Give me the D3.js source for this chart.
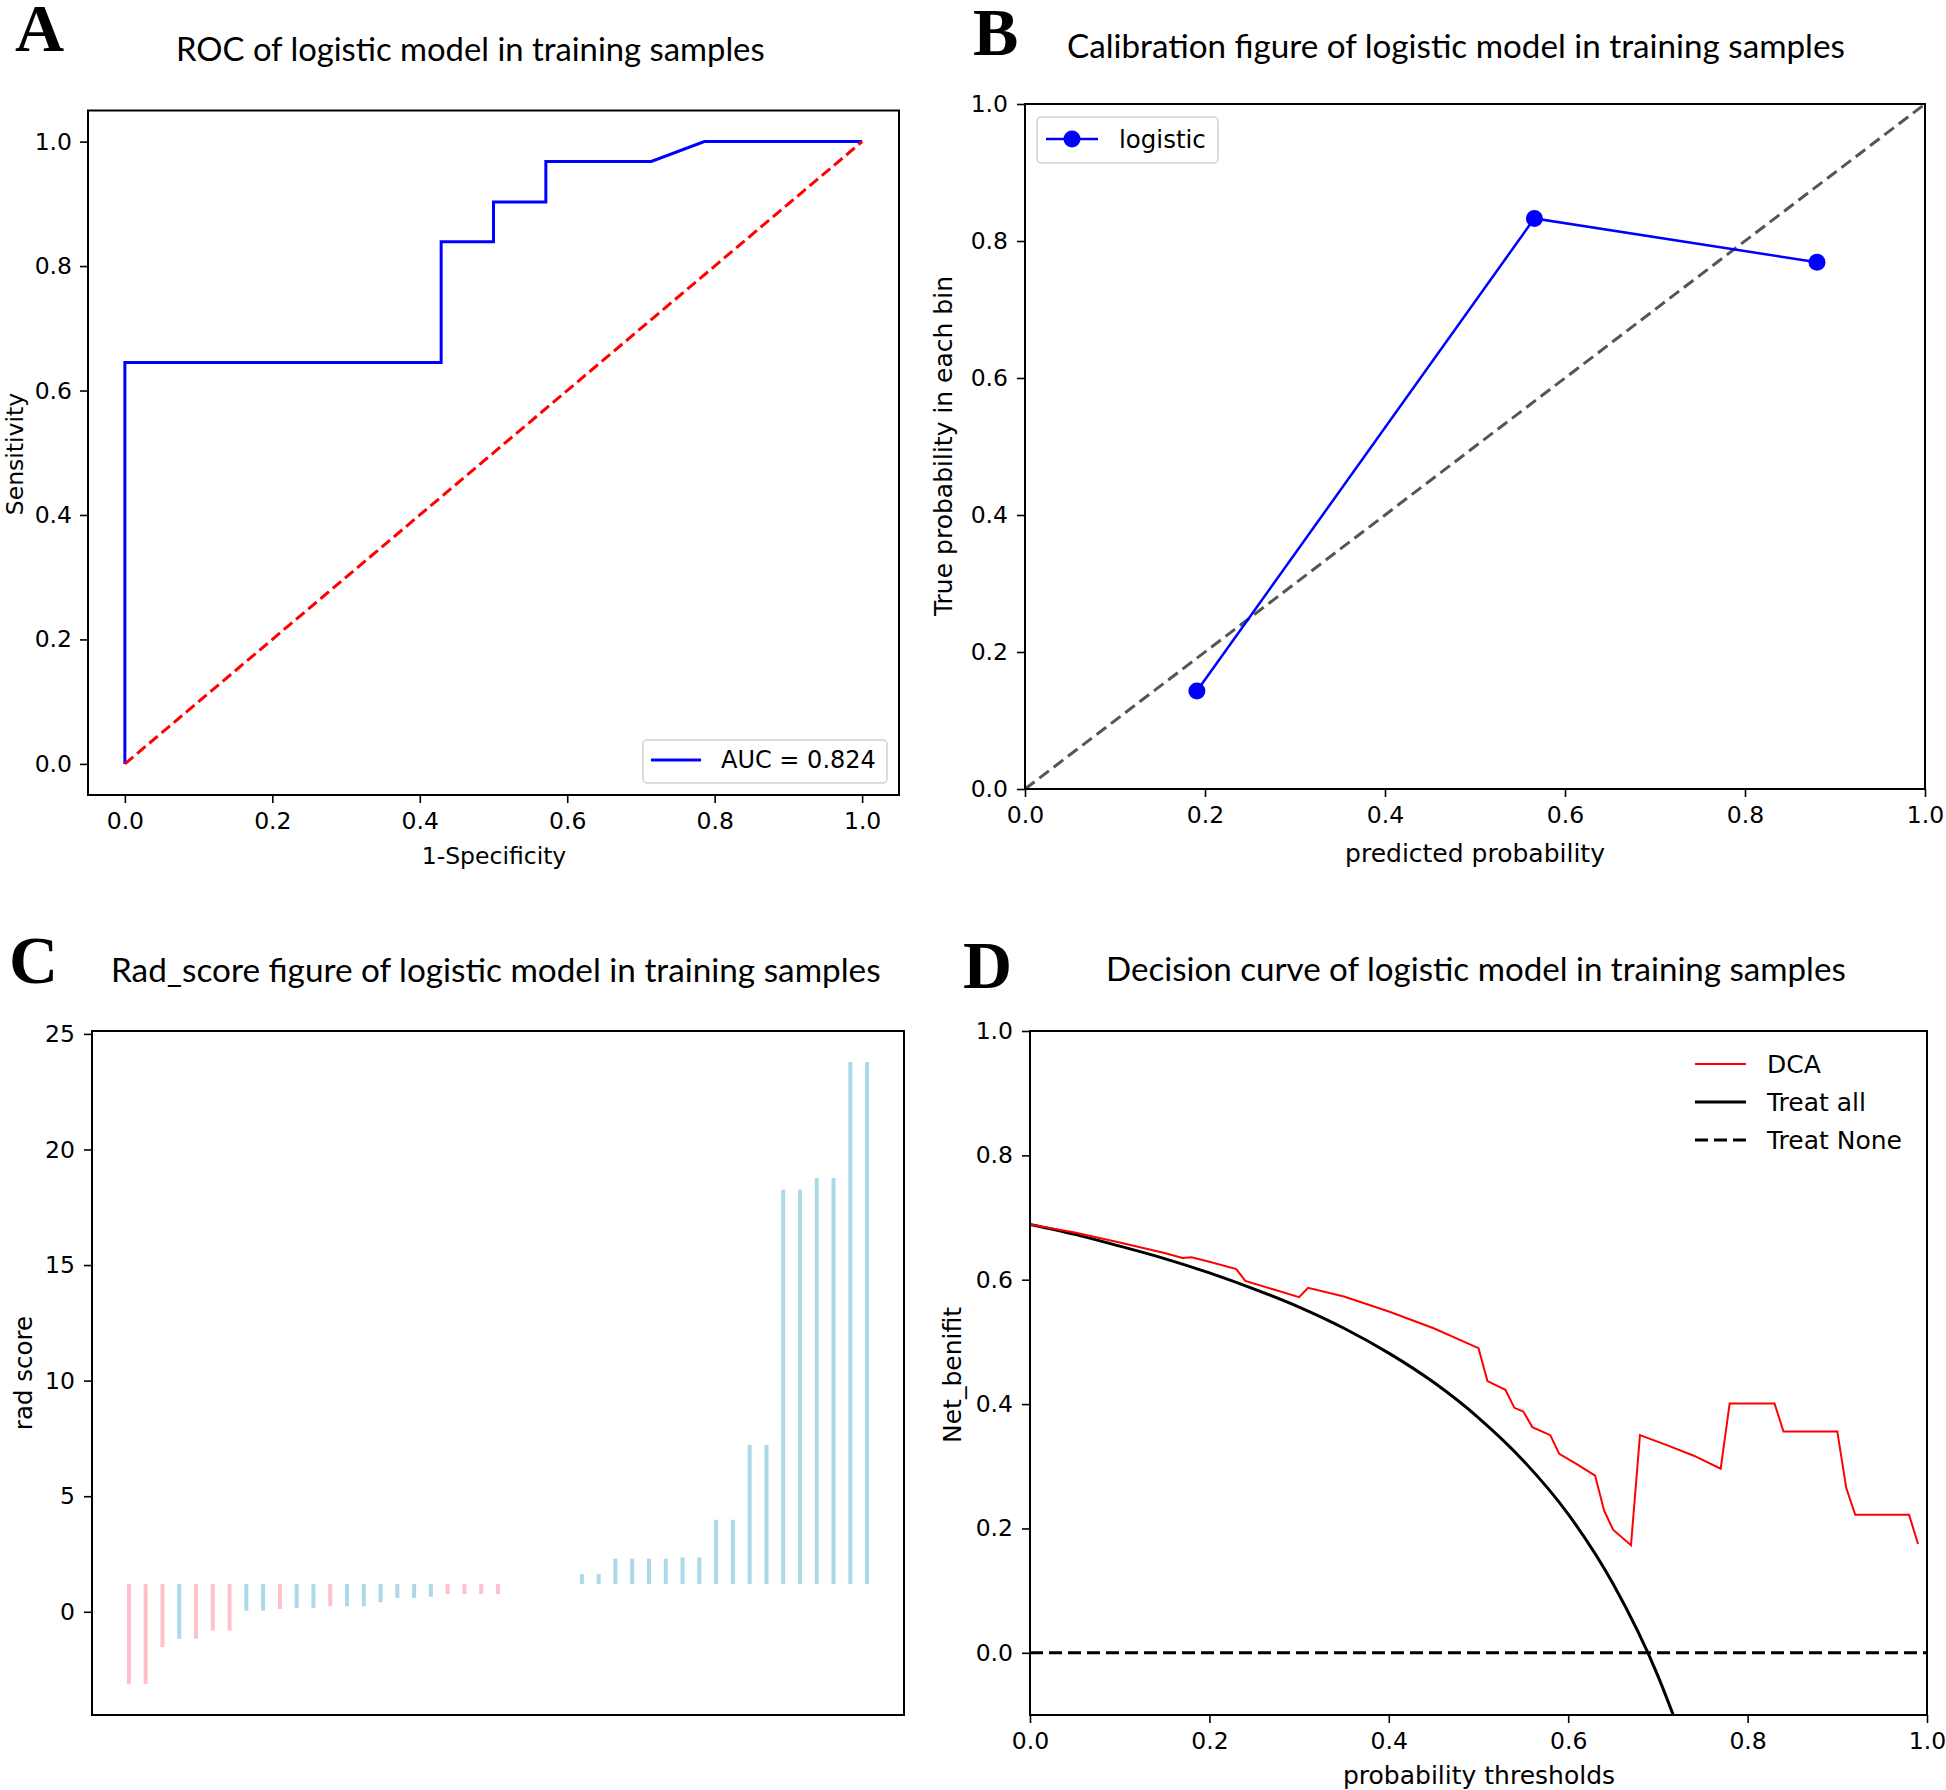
<!DOCTYPE html>
<html>
<head>
<meta charset="utf-8">
<script src="https://cdn.jsdelivr.net/npm/d3@7"></script>
<style>
  body { margin: 0; background: #fff; }
  svg text { font-family: "DejaVu Sans", sans-serif; fill: #000; }
</style>
</head>
<body>
<svg id="fig"></svg>
<script>
// ---------------- data ----------------
// A: ROC curve
const rocFpr = [0, 0, 0.429, 0.429, 0.5, 0.5, 0.571, 0.571, 0.714, 0.786, 1.0];
const rocTpr = [0, 0.645, 0.645, 0.839, 0.839, 0.903, 0.903, 0.968, 0.968, 1.0, 1.0];
const aucLabel = "AUC = 0.824";

// B: calibration bins
const calPred = [0.191, 0.566, 0.880];
const calTrue = [0.143, 0.833, 0.769];

// C: rad score per sample (sorted), class colour, baseline of the lines
const radScore = [-3.12, -3.12, -1.53, -1.17, -1.17, -0.81, -0.81, 0.05, 0.05, 0.12,
  0.17, 0.17, 0.24, 0.24, 0.24, 0.41, 0.6, 0.6, 0.65, 0.77, 0.77, 0.77, 0.77,
  1.2, 1.2, 1.2, 1.2,
  1.63, 1.63, 2.3, 2.3, 2.3, 2.3, 2.35, 2.35, 3.98, 3.98, 7.21, 7.21,
  18.26, 18.26, 18.77, 18.77, 23.78, 23.78];
const radClass = ["n","n","n","p","n","n","n","p","p","n","p","p","n","p","p","p","p","p","p",
  "n","n","n","n", "n","n","p","p",
  "p","p","p","p","p","p","p","p","p","p","p","p","p","p","p","p","p","p"];
const radBase = 1.2;

// D: decision curve
const dcaThresh = [0, 0.05, 0.10, 0.15, 0.17, 0.18, 0.20, 0.23, 0.24, 0.27, 0.30, 0.31, 0.35, 0.40,
  0.45, 0.50, 0.51, 0.53, 0.54, 0.55, 0.56, 0.58, 0.59, 0.61, 0.63, 0.64, 0.65, 0.67, 0.68,
  0.71, 0.74, 0.77, 0.78, 0.83, 0.84, 0.90, 0.91, 0.92, 0.98, 0.99];
const dcaNet = [0.689, 0.676, 0.660, 0.643, 0.635, 0.636, 0.629, 0.617, 0.598, 0.585, 0.572, 0.587, 0.573, 0.549,
  0.522, 0.490, 0.437, 0.423, 0.394, 0.388, 0.363, 0.350, 0.320, 0.303, 0.285, 0.229, 0.198, 0.173, 0.350,
  0.334, 0.317, 0.296, 0.401, 0.401, 0.356, 0.356, 0.265, 0.222, 0.222, 0.175];
const allThresh = [0, 0.05, 0.1, 0.15, 0.2, 0.25, 0.3, 0.35, 0.4, 0.45, 0.5, 0.55, 0.6, 0.65, 0.7, 0.72];
const allNet = [0.689, 0.673, 0.654, 0.634, 0.611, 0.585, 0.556, 0.522, 0.482, 0.435, 0.378, 0.309, 0.223, 0.111, -0.037, -0.111];
const noneThresh = [0, 1];
const noneNet = [0, 0];

const unitTicks = [0, 0.2, 0.4, 0.6, 0.8, 1.0];
const radTicks = [0, 5, 10, 15, 20, 25];

// ---------------- figure ----------------
const W = 1946, H = 1790;
const svg = d3.select("#fig").attr("width", W).attr("height", H);
svg.append("rect").attr("width", W).attr("height", H).attr("fill", "#fff");

const fmt1 = d3.format(".1f");

function styleAxis(g, size) {
  g.select(".domain").remove();
  g.selectAll(".tick line").attr("stroke", "#000").attr("stroke-width", 1.6);
  g.selectAll(".tick text").attr("fill", "#000").style("font-size", size + "px");
}

function frame(x, y) {
  const [x0, x1] = x.range(), [y0, y1] = y.range();
  svg.append("rect")
    .attr("x", x0).attr("y", y1)
    .attr("width", x1 - x0).attr("height", y0 - y1)
    .attr("fill", "none").attr("stroke", "#000").attr("stroke-width", 2);
}

function clip(id, x, y) {
  const [x0, x1] = x.range(), [y0, y1] = y.range();
  svg.append("clipPath").attr("id", id).append("rect")
    .attr("x", x0).attr("y", y1).attr("width", x1 - x0).attr("height", y0 - y1);
}

// titles in a Calibri-like face, sized to span the same width as the original
function title(x, y, str, width) {
  const t = svg.append("text").attr("x", x).attr("y", y).text(str)
    .style("font-family", "Lato, 'Open Sans', sans-serif").style("font-size", "100px");
  const w = t.node().getComputedTextLength();
  t.style("font-size", (100 * width / w) + "px");
}

function letter(x, y, str) {
  svg.append("text").attr("x", x).attr("y", y).text(str)
    .style("font-family", "'Liberation Serif', serif").style("font-weight", "bold")
    .style("font-size", "68px");
}

function label(x, y, str, size, rotate) {
  svg.append("text")
    .attr("transform", `translate(${x},${y})` + (rotate ? " rotate(-90)" : ""))
    .attr("text-anchor", "middle").attr("dy", "0.35em")
    .style("font-size", size + "px").text(str);
}

// ================= A: ROC =================
{
  const x = d3.scaleLinear().domain([-0.05, 1.05]).range([88, 899]);
  const y = d3.scaleLinear().domain([-0.05, 1.05]).range([795, 110.5]);

  svg.append("g").attr("transform", `translate(0,${y.range()[0]})`)
    .call(d3.axisBottom(x).tickValues(unitTicks).tickFormat(fmt1).tickSize(8).tickPadding(9))
    .call(g => styleAxis(g, 23.5));
  svg.append("g").attr("transform", `translate(${x.range()[0]},0)`)
    .call(d3.axisLeft(y).tickValues(unitTicks).tickFormat(fmt1).tickSize(8).tickPadding(8))
    .call(g => styleAxis(g, 23.5));

  const roc = d3.line().x(i => x(rocFpr[i])).y(i => y(rocTpr[i]));
  svg.append("path").attr("d", roc(d3.range(rocFpr.length)))
    .attr("fill", "none").attr("stroke", "#0000ff").attr("stroke-width", 3);
  svg.append("path").attr("d", d3.line()([[x(0), y(0)], [x(1), y(1)]]))
    .attr("fill", "none").attr("stroke", "#ff0000").attr("stroke-width", 3)
    .attr("stroke-dasharray", "11,5");

  frame(x, y);

  // legend
  svg.append("rect").attr("x", 643).attr("y", 740).attr("width", 244).attr("height", 43)
    .attr("rx", 4).attr("fill", "#fff").attr("fill-opacity", 0.8)
    .attr("stroke", "#d0d0d0").attr("stroke-width", 1.5);
  svg.append("line").attr("x1", 651).attr("x2", 701).attr("y1", 760).attr("y2", 760)
    .attr("stroke", "#0000ff").attr("stroke-width", 3);
  svg.append("text").attr("x", 721).attr("y", 760).attr("dy", "0.35em")
    .style("font-size", "24px").text(aucLabel);

  title(176, 61, "ROC of logistic model in training samples", 589);
  letter(15, 51, "A");
  label(494, 856, "1-Specificity", 23.5, false);
  label(15, 454, "Sensitivity", 23.5, true);
}

// ================= B: calibration =================
{
  const x = d3.scaleLinear().domain([0, 1]).range([1025, 1925]);
  const y = d3.scaleLinear().domain([0, 1]).range([789, 104]);

  svg.append("g").attr("transform", `translate(0,${y.range()[0]})`)
    .call(d3.axisBottom(x).tickValues(unitTicks).tickFormat(fmt1).tickSize(8).tickPadding(9))
    .call(g => styleAxis(g, 23.5));
  svg.append("g").attr("transform", `translate(${x.range()[0]},0)`)
    .call(d3.axisLeft(y).tickValues(unitTicks).tickFormat(fmt1).tickSize(8).tickPadding(9))
    .call(g => styleAxis(g, 23.5));

  svg.append("path").attr("d", d3.line()([[x(0), y(0)], [x(1), y(1)]]))
    .attr("fill", "none").attr("stroke", "#555").attr("stroke-width", 3)
    .attr("stroke-dasharray", "12,6");

  const cal = d3.line().x(i => x(calPred[i])).y(i => y(calTrue[i]));
  svg.append("path").attr("d", cal(d3.range(calPred.length)))
    .attr("fill", "none").attr("stroke", "#0000ff").attr("stroke-width", 2.5);
  svg.append("g").selectAll("circle").data(d3.range(calPred.length)).join("circle")
    .attr("cx", i => x(calPred[i])).attr("cy", i => y(calTrue[i])).attr("r", 8.5)
    .attr("fill", "#0000ff");

  frame(x, y);

  // legend
  svg.append("rect").attr("x", 1037).attr("y", 117).attr("width", 181).attr("height", 46)
    .attr("rx", 4).attr("fill", "#fff").attr("fill-opacity", 0.8)
    .attr("stroke", "#d0d0d0").attr("stroke-width", 1.5);
  svg.append("line").attr("x1", 1046).attr("x2", 1098).attr("y1", 139).attr("y2", 139)
    .attr("stroke", "#0000ff").attr("stroke-width", 2.5);
  svg.append("circle").attr("cx", 1072).attr("cy", 139).attr("r", 8.5).attr("fill", "#0000ff");
  svg.append("text").attr("x", 1119).attr("y", 139).attr("dy", "0.35em")
    .style("font-size", "24.5px").text("logistic");

  title(1067, 58, "Calibration figure of logistic model in training samples", 778);
  letter(973, 55, "B");
  label(1475, 853, "predicted probability", 25, false);
  label(943, 446, "True probability in each bin", 25, true);
}

// ================= C: rad score =================
{
  const n = radScore.length;
  const lo = Math.min(d3.min(radScore), radBase), hi = Math.max(d3.max(radScore), radBase);
  const pad = (hi - lo) * 0.05;
  const x = d3.scaleLinear().domain([-0.05 * (n - 1), 1.05 * (n - 1)]).range([92, 904]);
  const y = d3.scaleLinear().domain([lo - pad, hi + pad]).range([1715, 1031]);

  svg.append("g").attr("transform", `translate(${x.range()[0]},0)`)
    .call(d3.axisLeft(y).tickValues(radTicks).tickFormat(d3.format("d")).tickSize(8).tickPadding(9))
    .call(g => styleAxis(g, 23.5));

  const colour = { n: "#ffc0cb", p: "#add8e6" };
  svg.append("g").selectAll("line").data(d3.range(n)).join("line")
    .attr("x1", i => x(i)).attr("x2", i => x(i))
    .attr("y1", i => y(radBase)).attr("y2", i => y(radScore[i]))
    .attr("stroke", i => colour[radClass[i]]).attr("stroke-width", 4);

  frame(x, y);

  title(111, 982, "Rad_score figure of logistic model in training samples", 770);
  letter(9, 983, "C");
  label(23, 1373, "rad score", 24.5, true);
}

// ================= D: decision curve =================
{
  const x = d3.scaleLinear().domain([0, 1]).range([1030, 1927]);
  const y = d3.scaleLinear().domain([-0.1, 1.0]).range([1715, 1031]);

  svg.append("g").attr("transform", `translate(0,${y.range()[0]})`)
    .call(d3.axisBottom(x).tickValues(unitTicks).tickFormat(fmt1).tickSize(8).tickPadding(9))
    .call(g => styleAxis(g, 23.5));
  svg.append("g").attr("transform", `translate(${x.range()[0]},0)`)
    .call(d3.axisLeft(y).tickValues(unitTicks).tickFormat(fmt1).tickSize(8).tickPadding(9))
    .call(g => styleAxis(g, 23.5));

  clip("clipD", x, y);
  const plot = svg.append("g").attr("clip-path", "url(#clipD)");

  const dca = d3.line().x(i => x(dcaThresh[i])).y(i => y(dcaNet[i]));
  const all = d3.line().x(i => x(allThresh[i])).y(i => y(allNet[i])).curve(d3.curveMonotoneX);
  const none = d3.line().x(i => x(noneThresh[i])).y(i => y(noneNet[i]));

  plot.append("path").attr("d", none(d3.range(noneThresh.length)))
    .attr("fill", "none").attr("stroke", "#000").attr("stroke-width", 3)
    .attr("stroke-dasharray", "13,6");
  plot.append("path").attr("d", all(d3.range(allThresh.length)))
    .attr("fill", "none").attr("stroke", "#000").attr("stroke-width", 3);
  plot.append("path").attr("d", dca(d3.range(dcaThresh.length)))
    .attr("fill", "none").attr("stroke", "#ff0000").attr("stroke-width", 2);

  frame(x, y);

  // legend (no frame)
  const leg = [
    { name: "DCA", colour: "#ff0000", w: 2, dash: null, yy: 1064 },
    { name: "Treat all", colour: "#000", w: 3, dash: null, yy: 1102 },
    { name: "Treat None", colour: "#000", w: 3, dash: "13,6", yy: 1140 }
  ];
  leg.forEach(d => {
    svg.append("line").attr("x1", 1695).attr("x2", 1746).attr("y1", d.yy).attr("y2", d.yy)
      .attr("stroke", d.colour).attr("stroke-width", d.w).attr("stroke-dasharray", d.dash);
    svg.append("text").attr("x", 1767).attr("y", d.yy).attr("dy", "0.35em")
      .style("font-size", "25px").text(d.name);
  });

  title(1106, 981, "Decision curve of logistic model in training samples", 740);
  letter(963, 988, "D");
  label(1479, 1775, "probability thresholds", 25, false);
  label(952, 1375, "Net_benifit", 25, true);
}
</script>
</body>
</html>
